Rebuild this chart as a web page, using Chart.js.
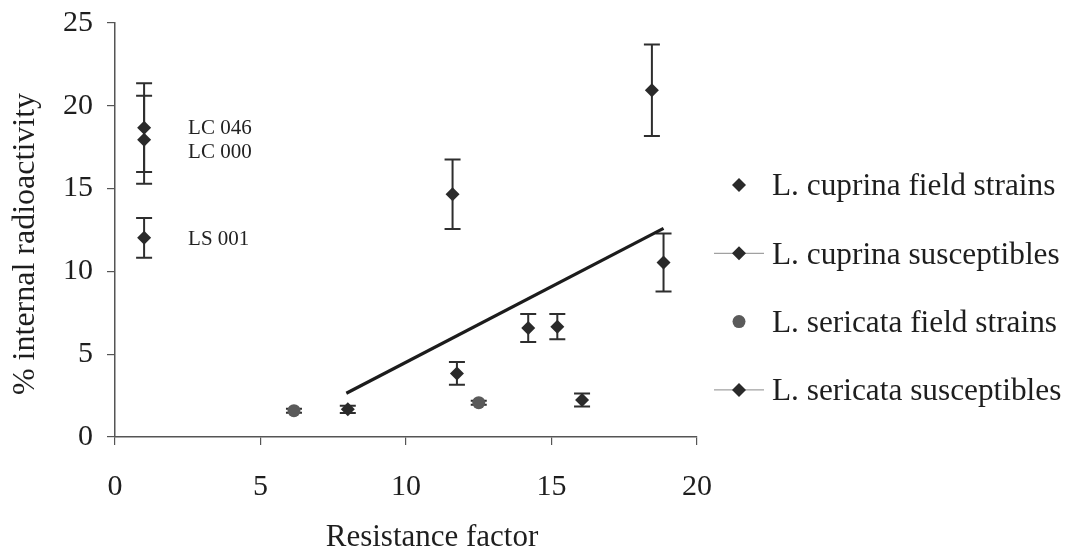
<!DOCTYPE html>
<html><head><meta charset="utf-8">
<script src="https://cdn.jsdelivr.net/npm/chart.js@4.4.1/dist/chart.umd.min.js"></script>
<style>html,body{margin:0;padding:0;background:#fff;} #wrap{width:1072px;height:556px;position:relative;}</style>
</head><body><div id="wrap"><canvas id="c" width="1072" height="556"></canvas></div>
<script>
// ---- data ----
const seriesNames = ['L. cuprina field strains','L. cuprina susceptibles','L. sericata field strains','L. sericata susceptibles'];
const cuprinaFieldX = [11.6, 18.45, 18.85, 14.2, 15.2, 11.75, 16.05, 8.0];
const cuprinaFieldY = [14.66, 20.94, 10.54, 6.58, 6.66, 3.84, 2.23, 1.67];
const cuprinaFieldErr = [2.1, 2.76, 1.75, 0.85, 0.76, 0.69, 0.39, 0.22];
const cuprinaSuscX = [1, 1];
const cuprinaSuscY = [18.68, 17.95];
const cuprinaSuscErr = [2.68, 2.65];
const cuprinaSuscNames = ['LC 046', 'LC 000'];
const sericataFieldX = [6.15, 12.5];
const sericataFieldY = [1.59, 2.07];
const sericataFieldErr = [0.12, 0.12];
const sericataSuscX = [1];
const sericataSuscY = [12.03];
const sericataSuscErr = [1.2];
const sericataSuscNames = ['LS 001'];
const trendX = [7.95, 18.85];
const trendY = [2.64, 12.6];
const xTickValues = [0, 5, 10, 15, 20];
const yTickValues = [0, 5, 10, 15, 20, 25];
const xTitle = 'Resistance factor';
const yTitle = '% internal radioactivity';

const FONT = '"Liberation Serif", "Times New Roman", serif';
const pts = (xs, ys) => xs.map((x, i) => ({x, y: ys[i]}));
const DARK = '#2a2a2a';
const GREY = '#5a5a5a';

const errorBars = {
  id: 'errorBars',
  beforeDatasetsDraw(chart) {
    const {ctx, scales: {x, y}} = chart;
    ctx.save();
    ctx.strokeStyle = '#2e2e2e';
    ctx.lineWidth = 2;
    chart.data.datasets.forEach(ds => {
      if (!ds.errors) return;
      ds.data.forEach((p, i) => {
        const e = ds.errors[i];
        const px = x.getPixelForValue(p.x);
        const y1 = y.getPixelForValue(p.y + e), y2 = y.getPixelForValue(p.y - e);
        ctx.beginPath();
        ctx.moveTo(px, y1); ctx.lineTo(px, y2);
        ctx.moveTo(px - 8, y1); ctx.lineTo(px + 8, y1);
        ctx.moveTo(px - 8, y2); ctx.lineTo(px + 8, y2);
        ctx.stroke();
      });
    });
    ctx.restore();
  }
};

const annotations = {
  id: 'annotations',
  afterDatasetsDraw(chart, args, opts) {
    const {ctx, scales: {x, y}} = chart;
    ctx.save();
    ctx.font = '21px ' + FONT;
    ctx.fillStyle = '#222';
    ctx.textBaseline = 'middle';
    ctx.textAlign = 'left';
    chart.data.datasets.forEach(ds => {
      if (!ds.names) return;
      ds.names.forEach((n, i) => {
        const p = ds.data[i];
        const dy = (opts.dy && opts.dy[n]) || 0;
        ctx.fillText(n, x.getPixelForValue(p.x) + 44, y.getPixelForValue(p.y) + dy + 1);
      });
    });
    ctx.restore();
  }
};

const customLegend = {
  id: 'customLegend',
  afterDraw(chart, args, opts) {
    const {ctx} = chart;
    ctx.save();
    ctx.font = '31.3px ' + FONT;
    ctx.textBaseline = 'middle';
    ctx.textAlign = 'left';
    let row = 0;
    chart.data.datasets.forEach(ds => {
      if (!ds.inLegend) return;
      const cy = opts.top + row * opts.step;
      const cx = opts.markerX;
      if (ds.legendLine) {
        ctx.strokeStyle = '#8a8a8a'; ctx.lineWidth = 1;
        ctx.beginPath(); ctx.moveTo(cx - 25, cy); ctx.lineTo(cx + 25, cy); ctx.stroke();
      }
      ctx.fillStyle = ds.pointBackgroundColor;
      ctx.beginPath();
      if (ds.pointStyle === 'circle') {
        ctx.arc(cx, cy, 6.5, 0, Math.PI * 2);
      } else {
        const r = 7;
        ctx.moveTo(cx - r, cy); ctx.lineTo(cx, cy - r); ctx.lineTo(cx + r, cy); ctx.lineTo(cx, cy + r); ctx.closePath();
      }
      ctx.fill();
      ctx.fillStyle = '#1e1e1e';
      ctx.fillText(ds.label, opts.textX, cy + 2);
      row++;
    });
    ctx.restore();
  }
};

const axisTitles = {
  id: 'axisTitles',
  afterDraw(chart) {
    const {ctx} = chart;
    ctx.save();
    ctx.fillStyle = '#1e1e1e';
    ctx.textAlign = 'center';
    ctx.textBaseline = 'middle';
    ctx.font = '31px ' + FONT;
    ctx.fillText(xTitle, 432, 538);
    ctx.font = '32px ' + FONT;
    ctx.translate(26, 244);
    ctx.rotate(-Math.PI / 2);
    ctx.fillText(yTitle, 0, 0);
    ctx.restore();
  }
};

new Chart(document.getElementById('c'), {
  type: 'scatter',
  data: {
    datasets: [
      {label: seriesNames[0], data: pts(cuprinaFieldX, cuprinaFieldY), errors: cuprinaFieldErr, inLegend: true,
       pointStyle: 'rectRot', pointRadius: 7, pointBackgroundColor: DARK, pointBorderColor: DARK, pointBorderWidth: 0, showLine: false},
      {label: seriesNames[1], data: pts(cuprinaSuscX, cuprinaSuscY), errors: cuprinaSuscErr, names: cuprinaSuscNames, inLegend: true, legendLine: true,
       pointStyle: 'rectRot', pointRadius: 7, pointBackgroundColor: DARK, pointBorderColor: DARK, pointBorderWidth: 0, showLine: false},
      {label: seriesNames[2], data: pts(sericataFieldX, sericataFieldY), errors: sericataFieldErr, inLegend: true,
       pointStyle: 'circle', pointRadius: 6.5, pointBackgroundColor: GREY, pointBorderColor: GREY, pointBorderWidth: 0, showLine: false},
      {label: seriesNames[3], data: pts(sericataSuscX, sericataSuscY), errors: sericataSuscErr, names: sericataSuscNames, inLegend: true, legendLine: true,
       pointStyle: 'rectRot', pointRadius: 7, pointBackgroundColor: DARK, pointBorderColor: DARK, pointBorderWidth: 0, showLine: false},
      {label: 'trend', data: pts(trendX, trendY), showLine: true, borderColor: '#1c1c1c', borderWidth: 3.2, pointRadius: 0, fill: false}
    ]
  },
  options: {
    responsive: false,
    animation: false,
    devicePixelRatio: 1,
    layout: {padding: {left: 0, right: 375, top: 23, bottom: 0}},
    plugins: {
      legend: {display: false},
      tooltip: {enabled: false},
      customLegend: {markerX: 739, textX: 772, top: 185, step: 68.3},
      annotations: {dy: {'LC 046': 0, 'LC 000': 12, 'LS 001': 1}}
    },
    scales: {
      x: {
        type: 'linear', min: 0, max: 20,
        afterBuildTicks: s => { s.ticks = xTickValues.map(v => ({value: v})); },
        afterFit: s => { s.height = 119; s.paddingLeft = 0; s.paddingRight = 0; },
        border: {display: true, color: '#555', width: 1.5},
        grid: {drawOnChartArea: false, drawTicks: true, tickLength: 8, color: '#555', lineWidth: 1.2},
        ticks: {font: {family: FONT, size: 30}, color: '#1e1e1e', padding: 24, maxRotation: 0}
      },
      y: {
        type: 'linear', min: 0, max: 25,
        afterBuildTicks: s => { s.ticks = yTickValues.map(v => ({value: v})); },
        afterFit: s => { s.width = 115; s.paddingTop = 0; s.paddingBottom = 0; },
        border: {display: true, color: '#555', width: 1.5},
        grid: {drawOnChartArea: false, drawTicks: true, tickLength: 8, color: '#555', lineWidth: 1.2},
        ticks: {font: {family: FONT, size: 30}, color: '#1e1e1e', padding: 14}
      }
    }
  },
  plugins: [errorBars, annotations, customLegend, axisTitles]
});
</script></body></html>
